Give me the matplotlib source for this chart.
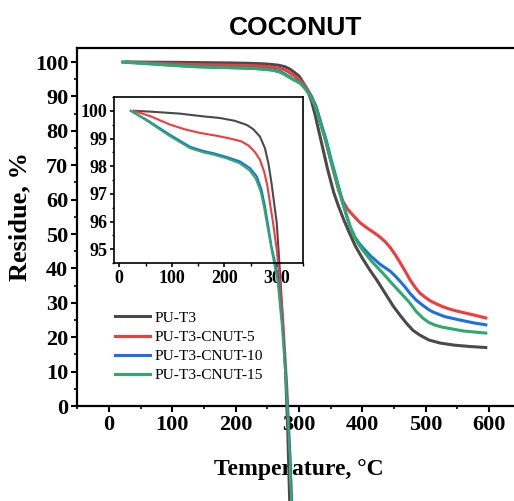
import matplotlib

matplotlib.use("Agg")
import matplotlib.pyplot as plt
from matplotlib.ticker import MultipleLocator

# TGA residue curves (temperature in °C, residue in %)
T_PU_T3 = [28, 60, 115, 160, 192, 220, 243, 255, 268, 277.5, 284, 290, 295, 300, 305,
           310, 315, 320, 325, 330, 335, 340, 345, 350, 355, 362, 370, 378, 389, 400,
           412, 423, 436, 449, 460, 470, 480, 491, 505, 523, 545, 570, 595]
R_PU_T3 = [100, 99.97, 99.9, 99.8, 99.74, 99.64, 99.49, 99.34, 99.07, 98.65, 98.11, 97.39, 96.67, 95.95, 94.5,
           93, 91, 88.5, 85, 81, 77, 73, 69, 65.5, 62, 58.3, 54.5, 51, 46.5, 43,
           39.5, 36.6, 32.8, 29, 26.3, 24, 22, 20.6, 19.2, 18.3, 17.7, 17.3, 17.0]

T_CNUT5 = [28, 60, 97, 125, 154, 185, 211, 232, 246, 258, 268, 276, 282, 288, 293, 300,
           305, 312, 320, 328, 335, 343, 350, 357, 363, 370, 377, 385, 397, 408, 420,
           428, 437, 444, 452, 460, 468, 475, 483, 491, 500, 507, 518, 528, 541, 554, 575, 595]
R_CNUT5 = [100, 99.8, 99.5, 99.33, 99.2, 99.1, 99.0, 98.9, 98.75, 98.52, 98.23, 97.8, 97.3, 96.55, 95.95, 94.98,
           94, 92.5, 90, 86.5, 82, 76.5, 71.5, 66.5, 62.5, 59.3, 57.2, 55.5, 53.2, 51.7, 50.2,
           49.1, 47.6, 46.1, 44, 41.6, 39.1, 36.8, 34.6, 32.8, 31.5, 30.6, 29.6, 28.8, 28, 27.4, 26.5, 25.6]

T_CNUT10 = [22, 52, 97, 135, 160, 179, 205, 230, 249, 262, 271, 277.5, 284, 290, 297,
            303, 311, 318, 326, 334, 342, 351, 360, 368, 375, 381, 388, 395, 402, 412,
            428, 444, 452, 460, 468, 475, 485, 496, 505, 512, 530, 554, 575, 595]
R_CNUT10 = [100, 99.68, 99.13, 98.7, 98.55, 98.47, 98.33, 98.17, 97.93, 97.63, 97.15, 96.55, 95.82, 95.1, 94.5,
            93.8, 92.2, 90.3, 87.5, 82.5, 78, 71.5, 65.5, 60, 55.5, 52, 49.2, 47.3, 45.8, 43.8,
            41.2, 39.2, 37.8, 36.2, 34.5, 32.8, 30.8, 29.2, 28, 27.3, 26, 25, 24.2, 23.6]

T_CNUT15 = [22, 52, 97, 135, 160, 179, 205, 230, 248, 260, 269.5, 276, 282.5, 289, 295,
            302, 310, 317, 325, 333, 341, 350, 360, 368, 375, 381, 388, 395, 402, 415,
            428, 437, 445, 460, 475, 485, 496, 505, 515, 527, 539, 560, 595]
R_CNUT15 = [100, 99.65, 99.08, 98.65, 98.5, 98.42, 98.28, 98.1, 97.85, 97.55, 97.08, 96.5, 95.8, 95.1, 94.5,
            93.8, 92.2, 90.3, 87.5, 82.5, 78, 71.5, 65, 59.5, 55.5, 52, 49, 46.8, 45, 42,
            39.5, 37.7, 36, 33, 30, 27.5, 25.5, 24.3, 23.5, 22.9, 22.5, 21.8, 21.2]

SERIES = [
    ("PU-T3", T_PU_T3, R_PU_T3, "#4a4a4a"),
    ("PU-T3-CNUT-5", T_CNUT5, R_CNUT5, "#f03c3c"),
    ("PU-T3-CNUT-10", T_CNUT10, R_CNUT10, "#1e6fe6"),
    ("PU-T3-CNUT-15", T_CNUT15, R_CNUT15, "#2eaa6a"),
]

SERIF = "Liberation Serif"

fig = plt.figure(figsize=(5.14, 5.01), dpi=100)
ax = fig.add_axes([0.1504, 0.1896, 0.8625, 0.714])

for label, t, r, c in SERIES:
    ax.plot(t, r, color=c, linewidth=2.2, label=label, solid_joinstyle="round")

ax.set_xlim(-50, 650)
ax.set_ylim(0, 104)
ax.xaxis.set_major_locator(MultipleLocator(100))
ax.xaxis.set_minor_locator(MultipleLocator(50))
ax.yaxis.set_major_locator(MultipleLocator(10))
ax.yaxis.set_minor_locator(MultipleLocator(5))
ax.tick_params(which="major", direction="out", length=4, width=1.5, pad=2.5)
ax.tick_params(which="minor", direction="out", length=2, width=1.2)
for sp in ax.spines.values():
    sp.set_linewidth(1.6)
for lab in ax.get_xticklabels() + ax.get_yticklabels():
    lab.set_fontfamily(SERIF)
    lab.set_fontweight("bold")
    lab.set_fontsize(16)

ax.set_xlabel("Temperature, °C", fontfamily=SERIF, fontweight="bold", fontsize=17, labelpad=17)
ax.set_ylabel("Residue, %", fontfamily=SERIF, fontweight="bold", fontsize=19)
ax.yaxis.set_label_coords(-0.104, 0.53)
fig.text(296 / 514, 1 - 28 / 501, "COCONUT", ha="center", va="center",
         fontfamily="Liberation Sans", fontweight="bold", fontsize=19)

ax.legend(loc="upper left", bbox_to_anchor=(115 / 514, 1 - 311 / 501),
          bbox_transform=fig.transFigure, frameon=False, borderpad=0, borderaxespad=0,
          handlelength=2.27, handletextpad=0.28, labelspacing=0.35,
          prop={"family": SERIF, "size": 11.1})

# zoomed inset on the onset of degradation
axin = fig.add_axes([114 / 514, 1 - 263 / 501, 189 / 514, 166 / 501])
axin.set_facecolor("white")
for label, t, r, c in SERIES:
    axin.plot(t, r, color=c, linewidth=1.5, clip_on=False, solid_joinstyle="round")
axin.set_xlim(-10, 350)
axin.set_ylim(94.5, 100.5)
axin.xaxis.set_major_locator(MultipleLocator(100))
axin.xaxis.set_minor_locator(MultipleLocator(50))
axin.yaxis.set_major_locator(MultipleLocator(1))
axin.yaxis.set_minor_locator(MultipleLocator(0.5))
axin.tick_params(which="major", direction="out", length=3, width=1.2, pad=2)
axin.tick_params(which="minor", direction="out", length=1.8, width=1.0)
for sp in axin.spines.values():
    sp.set_linewidth(1.2)
for lab in axin.get_xticklabels() + axin.get_yticklabels():
    lab.set_fontfamily(SERIF)
    lab.set_fontweight("bold")
    lab.set_fontsize(13)

fig.savefig("out.png", dpi=100)
